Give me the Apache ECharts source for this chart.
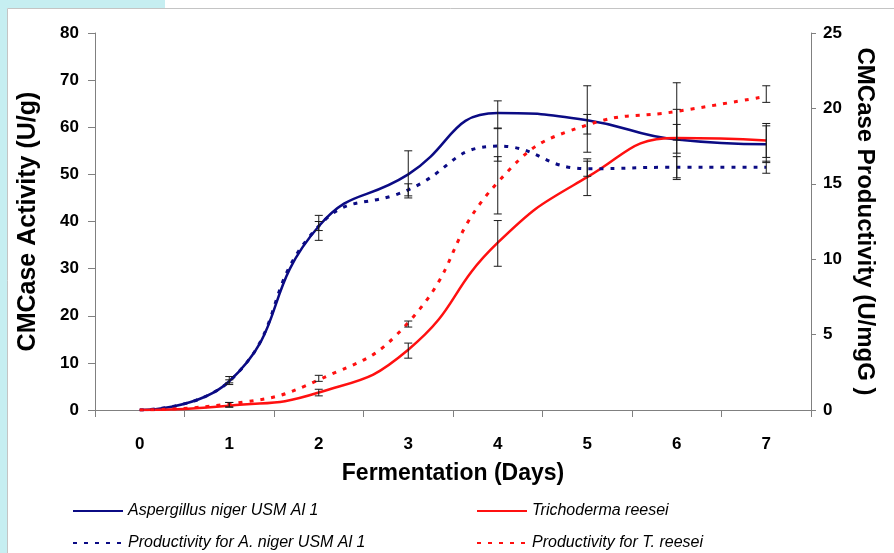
<!DOCTYPE html>
<html>
<head>
<meta charset="utf-8">
<script src="https://cdn.jsdelivr.net/npm/echarts@6/dist/echarts.min.js"></script>
<style>
html,body{margin:0;padding:0;background:#fff;}
#chart{width:894px;height:553px;}
</style>
</head>
<body>
<div id="chart"></div>
<script>
// ---- data ----
const days = ['0', '1', '2', '3', '4', '5', '6', '7'];
const nameNiger = 'Aspergillus niger USM Al 1';
const nameReesei = 'Trichoderma reesei';
const nameNigerProd = 'Productivity for A. niger USM Al 1';
const nameReeseiProd = 'Productivity for T. reesei';

const nigerActivity = [0, 6.1, 39.0, 50.0, 63.0, 61.5, 57.4, 56.4];
const reeseiActivity = [0, 0.9, 3.7, 12.8, 35.5, 49.4, 57.7, 57.2];
const nigerProductivity = [0, 1.9, 12.2, 14.6, 17.5, 16.0, 16.1, 16.1];
const reeseiProductivity = [0, 0.4, 2.0, 5.8, 15.1, 18.9, 19.8, 20.8];

const nigerActLow = [null, 5.4, 36.0, 45.0, 59.7, 54.7, 48.9, 52.5];
const nigerActHigh = [null, 7.1, 41.3, 55.0, 65.6, 68.8, 63.8, 60.3];
const reeseiActLow = [null, 0.6, 3.0, 11.0, 30.5, 45.5, 54.5, 53.6];
const reeseiActHigh = [null, 1.6, 4.4, 14.2, 40.2, 53.3, 60.6, 60.8];
const nigerProdLow = [null, 1.8, 11.9, 14.2, 16.5, 15.5, 15.4, 15.7];
const nigerProdHigh = [null, 2.0, 12.5, 15.0, 18.7, 16.5, 16.8, 16.5];
const reeseiProdLow = [null, 0.2, 1.9, 5.5, 13.0, 18.3, 17.9, 20.4];
const reeseiProdHigh = [null, 0.5, 2.3, 5.9, 16.8, 19.6, 21.7, 21.5];

const leftTicks = { min: 0, max: 80, interval: 10 };
const rightTicks = { min: 0, max: 25, interval: 5 };

// ---- build ----
const FONT = 'Liberation Sans';
const NAVY = '#0b0b84';
const RED = '#ff1010';

function errData(low, high) {
  const out = [];
  for (let i = 0; i < low.length; i++) {
    if (low[i] != null) out.push([i, low[i], high[i]]);
  }
  return out;
}
function errSeries(low, high, yIdx) {
  return {
    type: 'custom',
    yAxisIndex: yIdx,
    z: 5,
    silent: true,
    data: errData(low, high),
    renderItem: function (params, api) {
      const x = api.value(0);
      const lo = api.coord([x, api.value(1)]);
      const hi = api.coord([x, api.value(2)]);
      const hw = 4;
      const st = { stroke: '#1a1a1a', lineWidth: 1 };
      return {
        type: 'group',
        children: [
          { type: 'line', shape: { x1: lo[0], y1: lo[1], x2: hi[0], y2: hi[1] }, style: st },
          { type: 'line', shape: { x1: lo[0] - hw, y1: lo[1], x2: lo[0] + hw, y2: lo[1] }, style: st },
          { type: 'line', shape: { x1: hi[0] - hw, y1: hi[1], x2: hi[0] + hw, y2: hi[1] }, style: st }
        ]
      };
    }
  };
}
function lineSeries(name, data, yIdx, color, dashed) {
  return {
    name: name,
    type: 'line',
    yAxisIndex: yIdx,
    data: data,
    smooth: 0.5,
    symbol: 'none',
    z: 3,
    lineStyle: { color: color, width: dashed ? 3 : 2.5, type: dashed ? [4, 7] : 'solid' },
    itemStyle: { color: color }
  };
}
function legendAt(name, left, top) {
  return {
    data: [name], left: left, top: top, padding: 0,
    itemWidth: 50, itemHeight: 14,
    itemStyle: { opacity: 0, color: 'transparent', borderWidth: 0 },
    textStyle: { fontFamily: FONT, fontSize: 16, fontStyle: 'italic', color: '#000' }
  };
}

const chart = echarts.init(document.getElementById('chart'));
chart.setOption({
  animation: false,
  backgroundColor: '#fff',
  graphic: [
    { type: 'rect', shape: { x: 0, y: 0, width: 7, height: 553 }, style: { fill: '#c6eef1' }, z: -10 },
    { type: 'rect', shape: { x: 0, y: 0, width: 165, height: 8 }, style: { fill: '#c6eef1' }, z: -10 },
    { type: 'line', shape: { x1: 7.5, y1: 8.5, x2: 894, y2: 8.5 }, style: { stroke: '#c4c4c4', lineWidth: 1 }, z: -9 },
    { type: 'line', shape: { x1: 7.5, y1: 8.5, x2: 7.5, y2: 553 }, style: { stroke: '#c4c4c4', lineWidth: 1 }, z: -9 }
  ],
  grid: { left: 95, right: 83, top: 33, bottom: 143, containLabel: false },
  legend: [
    legendAt(nameNiger, 72, 503),
    legendAt(nameReesei, 476, 503),
    legendAt(nameNigerProd, 72, 535),
    legendAt(nameReeseiProd, 476, 535)
  ],
  xAxis: {
    type: 'category',
    data: days,
    boundaryGap: true,
    name: 'Fermentation (Days)',
    nameLocation: 'middle',
    nameGap: 52,
    nameTextStyle: { fontFamily: FONT, fontSize: 23, fontWeight: 'bold', color: '#000' },
    axisLine: { lineStyle: { color: '#808080', width: 1 } },
    axisTick: { show: true, length: 7, lineStyle: { color: '#808080' }, alignWithLabel: false },
    axisLabel: { margin: 26, fontFamily: FONT, fontSize: 17, fontWeight: 'bold', color: '#000' },
    splitLine: { show: false }
  },
  yAxis: [
    {
      type: 'value', position: 'left',
      min: leftTicks.min, max: leftTicks.max, interval: leftTicks.interval,
      name: 'CMCase Activity (U/g)',
      nameLocation: 'middle', nameGap: 54,
      nameTextStyle: { fontFamily: FONT, fontSize: 25, fontWeight: 'bold', color: '#000' },
      axisLine: { show: true, lineStyle: { color: '#808080', width: 1 } },
      axisTick: { show: true, length: 7, lineStyle: { color: '#808080' } },
      axisLabel: { margin: 16, fontFamily: FONT, fontSize: 17, fontWeight: 'bold', color: '#000' },
      splitLine: { show: false }
    },
    {
      type: 'value', position: 'right',
      min: rightTicks.min, max: rightTicks.max, interval: rightTicks.interval,
      name: 'CMCase Productivity (U/mgG )',
      nameLocation: 'middle', nameGap: 34, nameRotate: -90,
      nameTextStyle: { fontFamily: FONT, fontSize: 24, fontWeight: 'bold', color: '#000' },
      axisLine: { show: true, lineStyle: { color: '#808080', width: 1 } },
      axisTick: { show: true, length: 5, lineStyle: { color: '#808080' } },
      axisLabel: { margin: 12, fontFamily: FONT, fontSize: 17, fontWeight: 'bold', color: '#000' },
      splitLine: { show: false }
    }
  ],
  series: [
    lineSeries(nameNiger, nigerActivity, 0, NAVY, false),
    lineSeries(nameReesei, reeseiActivity, 0, RED, false),
    lineSeries(nameNigerProd, nigerProductivity, 1, NAVY, true),
    lineSeries(nameReeseiProd, reeseiProductivity, 1, RED, true),
    errSeries(nigerActLow, nigerActHigh, 0),
    errSeries(reeseiActLow, reeseiActHigh, 0),
    errSeries(nigerProdLow, nigerProdHigh, 1),
    errSeries(reeseiProdLow, reeseiProdHigh, 1)
  ]
});
</script>
</body>
</html>
